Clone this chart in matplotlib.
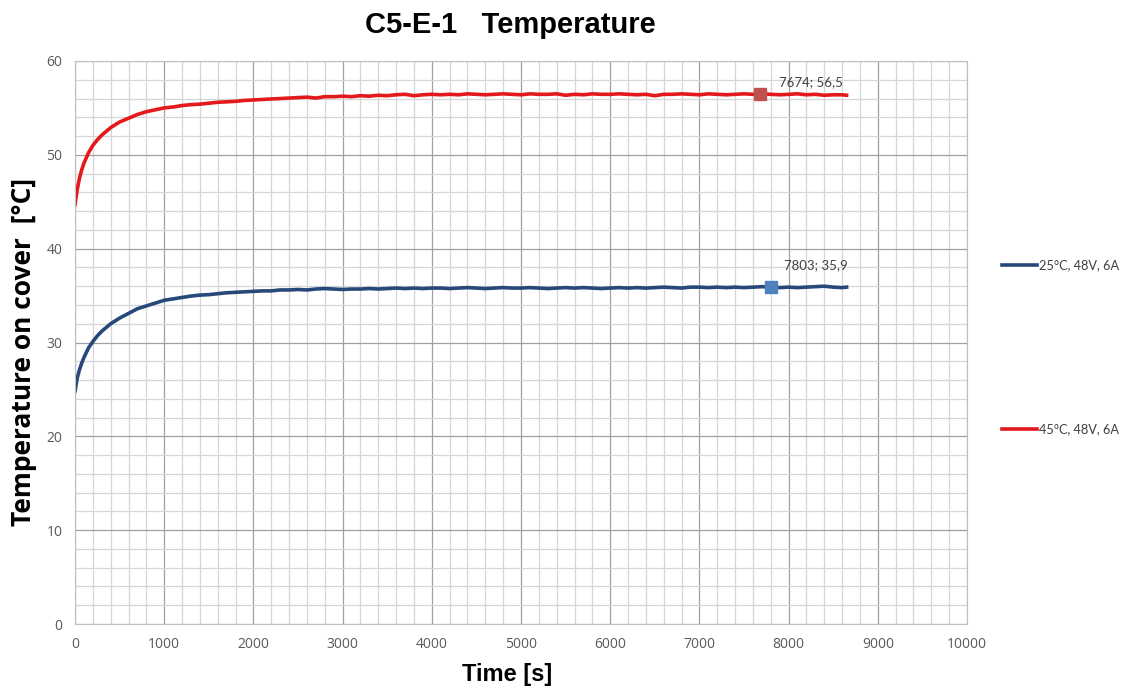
import matplotlib
matplotlib.use("Agg")
import matplotlib.pyplot as plt
from matplotlib.ticker import MultipleLocator

# ---- data ----
time_start = [0, 25, 50, 75, 100, 150, 200, 250, 300]
time_rest = list(range(400, 8700, 100))
time = time_start + time_rest + [8650]

temp_45 = [44.7, 46.3, 47.5, 48.4, 49.1, 50.2, 51.0, 51.6, 52.1,
           52.9, 53.5, 53.9, 54.3, 54.6, 54.8, 55.0, 55.1, 55.25, 55.35,
           55.4, 55.5, 55.6, 55.65, 55.7, 55.8, 55.85, 55.9, 55.95, 56.0,
           56.05, 56.1, 56.15, 56.05, 56.2, 56.2, 56.25, 56.2, 56.3, 56.25,
           56.35, 56.3, 56.4, 56.45, 56.3, 56.4, 56.45, 56.4, 56.45, 56.4,
           56.5, 56.45, 56.4, 56.45, 56.5, 56.45, 56.4, 56.5, 56.45, 56.45,
           56.5, 56.35, 56.45, 56.4, 56.5, 56.45, 56.45, 56.5, 56.45, 56.4,
           56.45, 56.3, 56.45, 56.45, 56.5, 56.45, 56.4, 56.5, 56.45, 56.4,
           56.45, 56.5, 56.45, 56.5, 56.45, 56.4, 56.45, 56.5, 56.4, 56.45,
           56.35, 56.4, 56.4, 56.35]

temp_25 = [24.8, 26.2, 27.1, 27.8, 28.4, 29.4, 30.1, 30.7, 31.2,
           32.0, 32.6, 33.1, 33.6, 33.9, 34.2, 34.5, 34.65, 34.8, 34.95,
           35.05, 35.1, 35.2, 35.3, 35.35, 35.4, 35.45, 35.5, 35.5, 35.6,
           35.6, 35.65, 35.6, 35.7, 35.75, 35.7, 35.65, 35.7, 35.7, 35.75,
           35.7, 35.75, 35.8, 35.75, 35.8, 35.75, 35.8, 35.8, 35.75, 35.8,
           35.85, 35.8, 35.75, 35.8, 35.85, 35.8, 35.8, 35.85, 35.8, 35.75,
           35.8, 35.85, 35.8, 35.85, 35.8, 35.75, 35.8, 35.85, 35.8, 35.85,
           35.8, 35.85, 35.9, 35.85, 35.8, 35.9, 35.9, 35.85, 35.9, 35.85,
           35.9, 35.85, 35.9, 35.95, 35.9, 35.85, 35.9, 35.85, 35.9, 35.95,
           36.0, 35.9, 35.85, 35.9]

label_25 = "25°C, 48V, 6A"
label_45 = "45°C, 48V, 6A"
point_25 = (7803, 35.9)
point_45 = (7674, 56.5)

fig = plt.figure(figsize=(11.25, 6.88), dpi=100)
ax = fig.add_axes([75/1125, 64/688, 892/1125, 563/688])

line25, = ax.plot(time, temp_25, color="#27497a", lw=2.6, label=label_25)
line45, = ax.plot(time, temp_45, color="#e3191c", lw=2.6, label=label_45)

# highlighted points with data labels
ax.plot(*point_45, marker="s", ms=8, color="#c0504d", zorder=3)
ax.plot(*point_25, marker="s", ms=8, color="#4f81bd", zorder=3)
ax.annotate(f"{point_45[0]}; {str(point_45[1]).replace('.', ',')}", point_45,
            xytext=(14, 8.5), textcoords="offset points", fontsize=9.5,
            color="#404040", family="Lato", va="center")
ax.annotate(f"{point_25[0]}; {str(point_25[1]).replace('.', ',')}", point_25,
            xytext=(9, 16), textcoords="offset points", fontsize=9.5,
            color="#404040", family="Lato", va="center")

ax.set_xlim(0, 10000)
ax.set_ylim(0, 60)
ax.xaxis.set_major_locator(MultipleLocator(1000))
ax.xaxis.set_minor_locator(MultipleLocator(200))
ax.yaxis.set_major_locator(MultipleLocator(10))
ax.yaxis.set_minor_locator(MultipleLocator(2))
ax.grid(which="major", color="#a0a0a0", lw=0.9)
ax.grid(which="minor", color="#d6d6d6", lw=0.9)
ax.set_axisbelow(True)
ax.tick_params(which="both", length=0, labelsize=10, labelcolor="#595959", pad=9)
for t in ax.get_xticklabels() + ax.get_yticklabels():
    t.set_family("Open Sans")
for s in ax.spines.values():
    s.set_color("#bfbfbf")

fig.text(510/1125, 1 - 25/688, "C5-E-1   Temperature", ha="center", va="center",
         fontsize=21, fontweight="bold", family="Liberation Sans")
fig.text(24/1125, 1 - 352/688, "Temperature on cover  [°C]", rotation=90,
         ha="center", va="center", fontsize=19, fontweight="bold", family="Open Sans")
fig.text(507/1125, 1 - 675/688, "Time [s]", ha="center", va="center",
         fontsize=17, fontweight="bold", family="Liberation Sans")

leg = fig.legend(handles=[line25, line45], loc="upper left",
                 bbox_to_anchor=(990/1125, 1 - 248/688), frameon=False,
                 prop={"family": "Lato", "size": 9.2}, labelspacing=11.9,
                 handlelength=2.8, handletextpad=0.15, labelcolor="#404040")

fig.savefig("out.png", dpi=100)
